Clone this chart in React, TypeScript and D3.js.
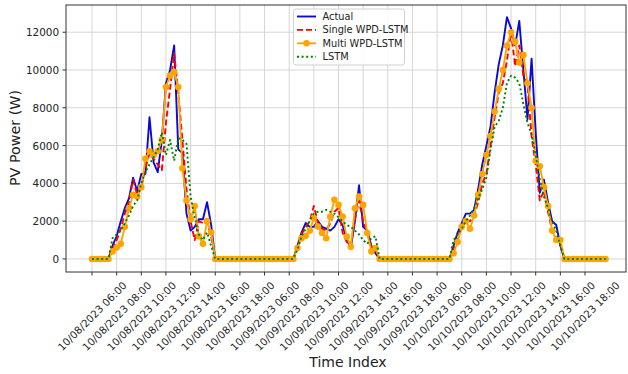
import React from "react";
import * as d3 from "d3";

// x tick labels, one every 6 samples (20 min data, 2 h per tick)
const tickLabels = [
  "10/08/2023 06:00", "10/08/2023 08:00", "10/08/2023 10:00", "10/08/2023 12:00",
  "10/08/2023 14:00", "10/08/2023 16:00", "10/08/2023 18:00",
  "10/09/2023 06:00", "10/09/2023 08:00", "10/09/2023 10:00", "10/09/2023 12:00",
  "10/09/2023 14:00", "10/09/2023 16:00", "10/09/2023 18:00",
  "10/10/2023 06:00", "10/10/2023 08:00", "10/10/2023 10:00", "10/10/2023 12:00",
  "10/10/2023 14:00", "10/10/2023 16:00", "10/10/2023 18:00",
];
const yTicks = [0, 2000, 4000, 6000, 8000, 10000, 12000];

// PV power (W) per time index
const actual = [
  0, 0, 0, 0, 0, 700, 1200, 2000, 2700, 3200, 4300, 3600, 4500, 4500, 7500, 5100, 4600, 6300, 9300, 10000,
  11300, 5800, 5600, 2400, 1500, 1700, 2100, 2100, 3000, 1800, 0, 0, 0, 0, 0, 0, 0, 0, 0, 0,
  0, 0, 0, 0, 0, 0, 0, 0, 0, 0, 700, 1400, 1900, 1700, 1700, 2000, 1700, 1600, 1500, 1700,
  2100, 1800, 1000, 600, 2000, 3900, 1700, 1500, 700, 300, 0, 0, 0, 0, 0, 0, 0, 0, 0, 0,
  0, 0, 0, 0, 0, 0, 0, 0, 700, 1400, 1900, 2400, 2400, 2600, 3700, 5000, 6000, 7000, 8800, 10300,
  11300, 12800, 12200, 11300, 12600, 10000, 7400, 10600, 6700, 3500, 4200, 3000, 2000, 1800, 700, 0, 0, 0, 0, 0,
  0, 0, 0, 0, 0, 0,
];
const singleWpd = [
  0, 0, 0, 0, 0, 500, 1000, 1600, 2400, 3000, 4200, 3400, 3800, 4800, 5600, 5300, 5000, 4700, 7200, 9000,
  10900, 8800, 6300, 3700, 2000, 1000, 2000, 1900, 2000, 1200, 0, 0, 0, 0, 0, 0, 0, 0, 0, 0,
  0, 0, 0, 0, 0, 0, 0, 0, 0, 0, 600, 1300, 1700, 2000, 2800, 1900, 1600, 1500, 1900, 2500,
  2700, 1400, 900, 700, 2100, 3100, 2000, 1400, 600, 500, 0, 0, 0, 0, 0, 0, 0, 0, 0, 0,
  0, 0, 0, 0, 0, 0, 0, 0, 500, 1100, 1700, 2100, 2000, 2300, 3000, 4000, 4500, 6000, 7500, 8800,
  9300, 10500, 12000, 10200, 11300, 9700, 9200, 6500, 5000, 3100, 3600, 2500, 1500, 1100, 800, 0, 0, 0, 0, 0,
  0, 0, 0, 0, 0, 0,
];
const multiWpd = [
  0, 0, 0, 0, 0, 400, 600, 800, 1700, 2700, 3400, 3300, 3800, 5300, 5700, 5500, 5700, 6300, 9100, 9700,
  9900, 9100, 4800, 3100, 2100, 2800, 1200, 800, 2000, 1400, 0, 0, 0, 0, 0, 0, 0, 0, 0, 0,
  0, 0, 0, 0, 0, 0, 0, 0, 0, 0, 580, 1100, 1230, 1500, 2170, 1720, 1370, 1100, 2240, 3130,
  2860, 2240, 1180, 650, 2680, 3300, 2860, 1370, 400, 580, 0, 0, 0, 0, 0, 0, 0, 0, 0, 0,
  0, 0, 0, 0, 0, 0, 0, 0, 300, 900, 1700, 2000, 1600, 2300, 3400, 4500, 5500, 6500, 7800, 9000,
  10000, 11300, 12000, 11500, 10400, 10800, 9300, 8000, 5200, 4900, 3800, 2800, 1500, 1000, 1000, 0, 0, 0, 0, 0,
  0, 0, 0, 0, 0, 0,
];
const lstm = [
  0, 0, 0, 0, 0, 1100, 1300, 1500, 1900, 2300, 2800, 3100, 4000, 4600, 5000, 5400, 5800, 6700, 5500, 6300,
  5200, 6400, 6300, 6100, 3300, 2200, 1300, 1000, 1400, 700, 0, 0, 0, 0, 0, 0, 0, 0, 0, 0,
  0, 0, 0, 0, 0, 0, 0, 0, 0, 0, 500, 1200, 1600, 2000, 2400, 2500, 2500, 2600, 2500, 2400,
  2200, 2000, 1800, 1700, 1500, 1300, 1000, 800, 1100, 1200, 0, 0, 0, 0, 0, 0, 0, 0, 0, 0,
  0, 0, 0, 0, 0, 0, 0, 0, 1000, 1300, 1600, 2000, 2300, 2700, 3200, 3700, 4300, 5800, 7000, 7300,
  8000, 9300, 9700, 9600, 9300, 8200, 7200, 6600, 5500, 4200, 3300, 2700, 2000, 1500, 700, 0, 0, 0, 0, 0,
  0, 0, 0, 0, 0, 0,
];

const font = "DejaVu Sans, sans-serif";

export default function App() {
  const width = 628;
  const height = 374;
  const frame = { left: 66, right: 626, top: 5, bottom: 272 };

  const x = d3.scaleLinear().domain([0, 120]).range([92, 585]);
  const y = d3.scaleLinear().domain([-690, 13440]).range([frame.bottom, frame.top]);

  const line = d3.line<number>().x((d, i) => x(i)).y(d => y(d));

  const series = [
    { name: "Actual", data: actual, color: "#0a0ad2", dash: undefined as string | undefined, marker: false },
    { name: "Single WPD-LSTM", data: singleWpd, color: "#ff0000", dash: "6,3", marker: false },
    { name: "Multi WPD-LSTM", data: multiWpd, color: "#ffa500", dash: undefined, marker: true },
    { name: "LSTM", data: lstm, color: "#008000", dash: "2,2.6", marker: false },
  ];

  return (
    <svg width={width} height={height} style={{ position: "absolute", left: 0, top: 0, background: "#fff" }}
      fontFamily={font}>
      {/* grid */}
      {tickLabels.map((t, k) => (
        <line key={"gx" + k} x1={x(k * 6)} x2={x(k * 6)} y1={frame.top} y2={frame.bottom} stroke="#d6d6d6" strokeWidth={1} />
      ))}
      {yTicks.map(v => (
        <line key={"gy" + v} x1={frame.left} x2={frame.right} y1={y(v)} y2={y(v)} stroke="#d6d6d6" strokeWidth={1} />
      ))}

      {/* series */}
      {series.map(s => (
        <g key={s.name}>
          <path d={line(s.data) || ""} fill="none" stroke={s.color} strokeWidth={1.9}
            strokeDasharray={s.dash} strokeLinejoin="round" />
          {s.marker && s.data.map((d, i) => (
            <circle key={i} cx={x(i)} cy={y(d)} r={3.3} fill={s.color} />
          ))}
        </g>
      ))}

      {/* frame */}
      <rect x={frame.left} y={frame.top} width={frame.right - frame.left} height={frame.bottom - frame.top}
        fill="none" stroke="#333" strokeWidth={1} />

      {/* y axis */}
      {yTicks.map(v => (
        <g key={"yt" + v}>
          <line x1={frame.left - 3.5} x2={frame.left} y1={y(v)} y2={y(v)} stroke="#333" />
          <text x={frame.left - 7} y={y(v)} textAnchor="end" dominantBaseline="central" fontSize={10.4} fill="#222">{v}</text>
        </g>
      ))}
      <text transform={`translate(15,138) rotate(-90)`} textAnchor="middle" dominantBaseline="central" fontSize={14.3} fill="#222">PV Power (W)</text>

      {/* x axis */}
      {tickLabels.map((t, k) => (
        <g key={"xt" + k}>
          <line x1={x(k * 6)} x2={x(k * 6)} y1={frame.bottom} y2={frame.bottom + 3.5} stroke="#333" />
          <text transform={`translate(${x(k * 6)},316) rotate(-45)`} textAnchor="middle" dominantBaseline="central"
            fontSize={10.3} fill="#222">{t}</text>
        </g>
      ))}
      <text x={348} y={362} textAnchor="middle" dominantBaseline="central" fontSize={14} fill="#222">Time Index</text>

      {/* legend */}
      <g>
        <rect x={293.5} y={9} width={111} height={56} rx={2.5} fill="#fff" fillOpacity={0.85} stroke="#d0d0d0" />
        {series.map((s, k) => {
          const ly = 16.5 + k * 13.4;
          return (
            <g key={"lg" + s.name}>
              <line x1={297} x2={316} y1={ly} y2={ly} stroke={s.color} strokeWidth={1.9} strokeDasharray={s.dash} />
              {s.marker && <circle cx={306.5} cy={ly} r={3.3} fill={s.color} />}
              <text x={322.5} y={ly} dominantBaseline="central" fontSize={9.8} fill="#222">{s.name}</text>
            </g>
          );
        })}
      </g>
    </svg>
  );
}
